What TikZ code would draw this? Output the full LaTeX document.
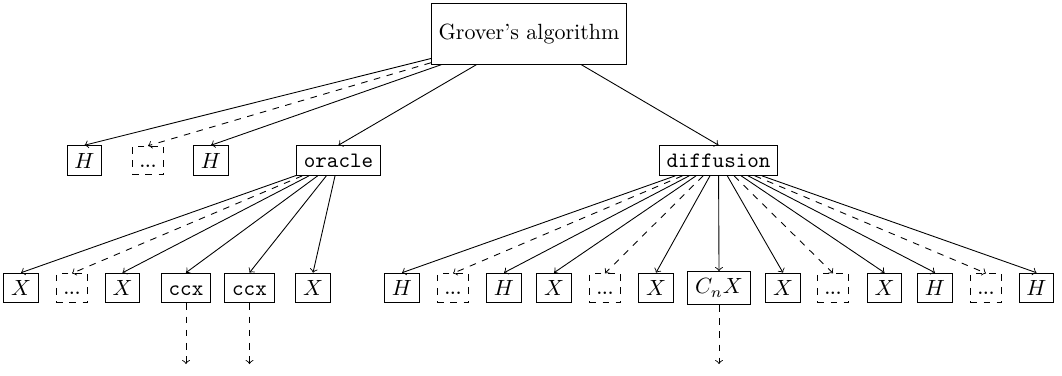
\documentclass[tikz,border=0pt]{standalone}
\begin{document}
\begin{tikzpicture}[x=0.4545pt,y=-0.4545pt,
  box/.style={draw, text height=6.83pt, inner sep=3.33pt},
  dotbox/.style={draw, dashed, text height=6.3pt, text depth=0pt, inner sep=3.33pt, font=\scriptsize\bfseries},
  edge/.style={->},
  dedge/.style={->, dashed}]
\useasboundingbox (0,0) rectangle (1062,375);
% root
\node[draw, minimum height=27.5pt, inner sep=3.33pt] (root) at (529,34) {Grover's algorithm};
% level 1
\node[box] (h1) at (84.5,160.5) {$H$};
\node[dotbox] (d1) at (148,160.5) {...};
\node[box] (h2) at (211,160.5) {$H$};
\node[box] (oracle) at (338.5,160.5) {\texttt{oracle}};
\node[box] (diff) at (718.5,160.5) {\texttt{diffusion}};
\foreach \c/\s in {h1/edge, d1/dedge, h2/edge, oracle/edge, diff/edge}
  \draw[\s] (root) -- (\c.north);
% level 2: oracle
\node[box] (ox1) at (21,288) {$X$};
\node[dotbox] (od1) at (72,288) {...};
\node[box] (ox2) at (122.5,288) {$X$};
\node[box] (occ1) at (186,288) {\texttt{ccx}};
\node[box] (occ2) at (249.5,288) {\texttt{ccx}};
\node[box] (ox3) at (313,288) {$X$};
\foreach \c/\s in {ox1/edge, od1/dedge, ox2/edge, occ1/edge, occ2/edge, ox3/edge}
  \draw[\s] (oracle) -- (\c.north);
% level 2: diffusion
\node[box] (dh1) at (402,288) {$H$};
\node[dotbox] (dd1) at (453,288) {...};
\node[box] (dh2) at (504,288) {$H$};
\node[box] (dx1) at (554,288) {$X$};
\node[dotbox] (dd2) at (605,288) {...};
\node[box] (dx2) at (656,288) {$X$};
\node[box] (cnx) at (719,288) {$C_nX$};
\node[box] (dx3) at (783,288) {$X$};
\node[dotbox] (dd3) at (833,288) {...};
\node[box] (dx4) at (884.5,288) {$X$};
\node[box] (dh3) at (935,288) {$H$};
\node[dotbox] (dd4) at (986,288) {...};
\node[box] (dh4) at (1036.5,288) {$H$};
\foreach \c/\s in {dh1/edge, dd1/dedge, dh2/edge, dx1/edge, dd2/dedge, dx2/edge, cnx/edge, dx3/edge, dd3/dedge, dx4/edge, dh3/edge, dd4/dedge, dh4/edge}
  \draw[\s] (diff) -- (\c.north);
% continuation arrows
\coordinate (e1) at (186,364);
\coordinate (e2) at (249.5,364);
\coordinate (e3) at (719,364);
\draw[dedge] (occ1) -- (e1);
\draw[dedge] (occ2) -- (e2);
\draw[dedge] (cnx) -- (e3);
\end{tikzpicture}
\end{document}
